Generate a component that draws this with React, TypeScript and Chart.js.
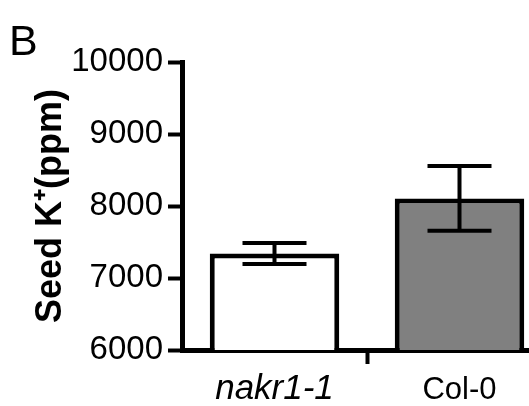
import React, { useEffect, useRef } from "react";
import { Chart, registerables } from "chart.js";

Chart.register(...registerables);

const categories = ["nakr1-1", "Col-0"];
const means = [7340, 8105];
const errors = [145, 450];
const fills = ["#ffffff", "#808080"];
const yMin = 6000;
const yMax = 10000;
const yStep = 1000;
const yTitle = "Seed K\u207A(ppm)";
const panelLabel = "B";

const FONT = "'Liberation Sans', Arial, Helvetica, sans-serif";

const errorBarPlugin = {
  id: "errorBars",
  afterDatasetsDraw(chart: any) {
    const ctx = chart.ctx;
    const meta = chart.getDatasetMeta(0);
    const y = chart.scales.y;
    ctx.save();
    ctx.strokeStyle = "#000";
    ctx.lineWidth = 4;
    ctx.lineCap = "butt";
    meta.data.forEach((bar: any, i: number) => {
      const x = bar.x;
      const top = y.getPixelForValue(means[i] + errors[i]);
      const bot = y.getPixelForValue(means[i] - errors[i]);
      const hw = 32;
      ctx.beginPath();
      ctx.moveTo(x, top);
      ctx.lineTo(x, bot);
      ctx.moveTo(x - hw, top);
      ctx.lineTo(x + hw, top);
      ctx.moveTo(x - hw, bot);
      ctx.lineTo(x + hw, bot);
      ctx.stroke();
    });
    ctx.restore();
  },
};

const panelLabelPlugin = {
  id: "panelLabel",
  afterDraw(chart: any) {
    const ctx = chart.ctx;
    ctx.save();
    ctx.fillStyle = "#000";
    ctx.font = `43px ${FONT}`;
    ctx.textBaseline = "alphabetic";
    ctx.textAlign = "left";
    ctx.fillText(panelLabel, 9, 55);
    ctx.restore();
  },
};

export default function App() {
  const ref = useRef<HTMLCanvasElement | null>(null);
  useEffect(() => {
    if (!ref.current) return;
    const chart = new Chart(ref.current, {
      type: "bar",
      data: {
        labels: categories,
        datasets: [
          {
            data: means,
            backgroundColor: fills,
            borderColor: "#000",
            borderWidth: 5,
            borderSkipped: "start",
            barPercentage: 0.7,
            categoryPercentage: 1,
          },
        ],
      },
      options: {
        animation: false,
        responsive: false,
        devicePixelRatio: 1,
        layout: { padding: { top: 62, right: 8, left: 0, bottom: 0 } },
        plugins: {
          legend: { display: false },
          tooltip: { enabled: false },
        },
        scales: {
          x: {
            afterFit: (s: any) => {
              s.height = 56;
            },
            grid: {
              offset: true,
              drawOnChartArea: false,
              drawTicks: true,
              tickLength: 14,
              tickWidth: 4,
              tickColor: (c: any) => (c.index === 0 ? "rgba(0,0,0,0)" : "#000"),
            },
            border: { display: true, color: "#000", width: 5 },
            ticks: {
              color: "#000",
              padding: 4,
              font: (c: any) =>
                c.index === 0
                  ? { family: FONT, size: 35, style: "italic", lineHeight: 1.2 }
                  : { family: FONT, size: 31, style: "normal", lineHeight: 1.45 },
            },
          },
          y: {
            min: yMin,
            max: yMax,
            afterFit: (s: any) => {
              s.width = 182;
            },
            grid: {
              drawOnChartArea: false,
              drawTicks: true,
              tickLength: 14,
              tickWidth: 4,
              tickColor: "#000",
            },
            border: { display: true, color: "#000", width: 5 },
            ticks: {
              stepSize: yStep,
              color: "#000",
              padding: 5,
              font: { family: FONT, size: 33 },
              callback: (v: any) => String(v),
            },
            title: {
              display: true,
              text: yTitle,
              color: "#000",
              padding: { top: 29, bottom: 0 },
              font: { family: FONT, size: 36, weight: "bold" },
            },
          },
        },
      },
      plugins: [errorBarPlugin, panelLabelPlugin],
    });
    return () => chart.destroy();
  }, []);
  return (
    <div
      style={{
        position: "fixed",
        left: 0,
        top: 0,
        width: 529,
        height: 406,
        overflow: "hidden",
        background: "#fff",
      }}
    >
      <canvas ref={ref} width={560} height={406} style={{ display: "block" }} />
    </div>
  );
}
